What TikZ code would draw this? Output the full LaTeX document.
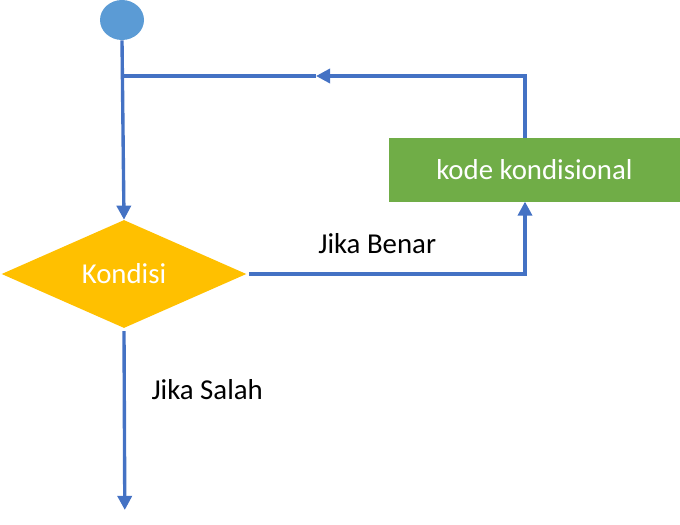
\documentclass[tikz,border=0pt]{standalone}
\usepackage{fontspec}
\setmainfont{Carlito}
\usetikzlibrary{shapes.geometric,arrows.meta}
\definecolor{startblue}{HTML}{5B9BD5}
\definecolor{linkblue}{HTML}{4472C4}
\definecolor{condyellow}{HTML}{FFC000}
\definecolor{codegreen}{HTML}{70AD47}
\begin{document}
\begin{tikzpicture}[
    font=\fontsize{20.5}{24}\selectfont,
    link/.style={draw=linkblue, line width=2.4pt},
    flow/.style={link, -{Triangle[width=10pt,length=10pt]}},
    startdot/.style={ellipse, fill=startblue, minimum width=1.1cm, minimum height=1cm},
    decision/.style={diamond, fill=condyellow, text=white, inner sep=0pt,
      minimum width=6.12cm, minimum height=2.7cm},
    codebox/.style={rectangle, fill=codegreen, text=white, inner sep=0pt,
      minimum width=7.28cm, minimum height=1.58cm}
  ]
  \useasboundingbox (0,0) rectangle (17,-13.1);
  \draw
    (3.05,-0.5) node[startdot] (start){}
    (3.1,-6.85) node[decision] (cond){Kondisi}
    (13.36,-4.25) node[codebox] (code){kode kondisional};
  \coordinate (join) at (3.05,-1.9);
  \coordinate (loopmid) at (7.9,-1.9);
  \coordinate (loopup) at (13.125,-1.9);
  \coordinate (codetop) at (13.125,-3.46);
  \coordinate (codebot) at (13.125,-5.04);
  \coordinate (turn) at (13.125,-6.85);
  \coordinate (exit) at (3.12,-12.75);
  \begin{scope}
    \draw[flow] (start.south) -- (cond.north);
    \draw[flow] (codetop) -- (loopup) -- (loopmid);
    \draw[link] (loopmid) -- (join);
    \draw[flow] ([xshift=2pt]cond.east) -- (turn) -- (codebot);
    \draw[flow] ([yshift=-2pt]cond.south) -- (exit);
  \end{scope}
  \node (benar) at (9.43,-6.1) {Jika Benar};
  \node (salah) at (5.18,-9.75) {Jika Salah};
\end{tikzpicture}
\end{document}
